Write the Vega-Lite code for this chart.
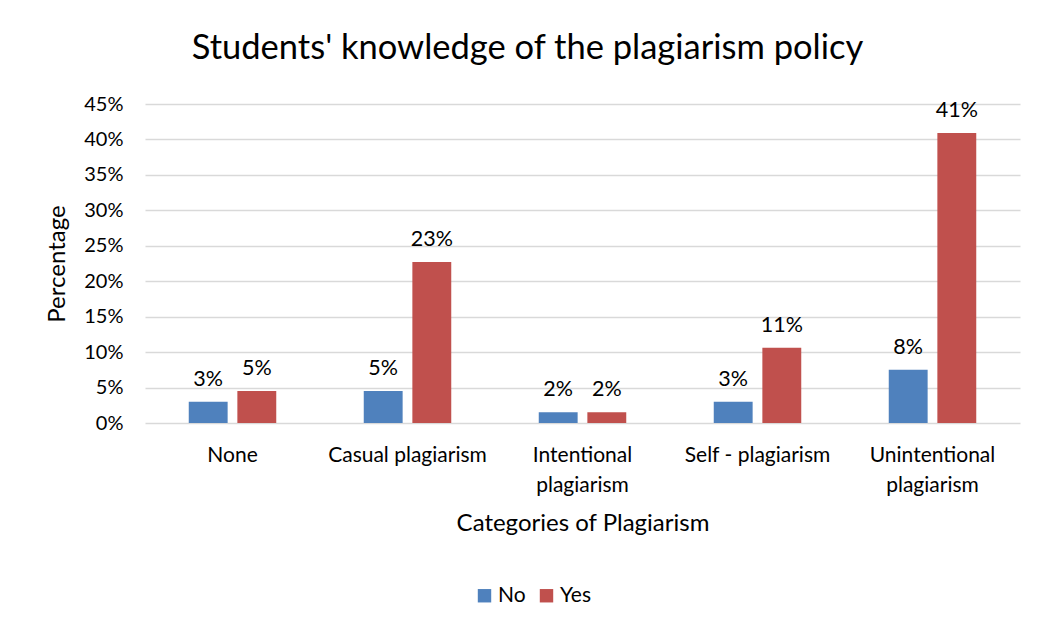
{
  "$schema": "https://vega.github.io/schema/vega-lite/v6.json",
  "width": 875,
  "height": 319,
  "autosize": {"type": "none"},
  "padding": {"left": 145, "top": 104, "right": 20, "bottom": 207},
  "background": "white",
  "title": {
    "text": "Students' knowledge of the plagiarism policy",
    "fontSize": 34.5,
    "font": "Lato",
    "fontWeight": "normal",
    "color": "#000000",
    "anchor": "middle",
    "frame": "group",
    "dx": -55,
    "offset": 28
  },
  "data": {
    "values": [
      {"category": "None", "answer": "No", "value": 0.030},
      {"category": "None", "answer": "Yes", "value": 0.045},
      {"category": "Casual plagiarism", "answer": "No", "value": 0.045},
      {"category": "Casual plagiarism", "answer": "Yes", "value": 0.227},
      {"category": "Intentional plagiarism", "answer": "No", "value": 0.015},
      {"category": "Intentional plagiarism", "answer": "Yes", "value": 0.015},
      {"category": "Self - plagiarism", "answer": "No", "value": 0.030},
      {"category": "Self - plagiarism", "answer": "Yes", "value": 0.106},
      {"category": "Unintentional plagiarism", "answer": "No", "value": 0.075},
      {"category": "Unintentional plagiarism", "answer": "Yes", "value": 0.409}
    ]
  },
  "encoding": {
    "x": {
      "field": "category",
      "type": "nominal",
      "sort": null,
      "scale": {"paddingInner": 0.5, "paddingOuter": 0.25},
      "axis": {
        "title": "Categories of Plagiarism",
        "labelAngle": 0,
        "labelFontSize": 21,
        "labelExpr": "datum.label == 'Intentional plagiarism' ? ['Intentional', 'plagiarism'] : datum.label == 'Unintentional plagiarism' ? ['Unintentional', 'plagiarism'] : datum.label",
        "labelLineHeight": 30,
        "labelPadding": 21,
        "ticks": false,
        "domain": false,
        "titlePadding": 16
      }
    },
    "xOffset": {"field": "answer", "type": "nominal", "scale": {"paddingInner": 0.2, "paddingOuter": 0}},
    "y": {
      "field": "value",
      "type": "quantitative",
      "scale": {"domain": [0, 0.45]},
      "axis": {
        "title": "Percentage",
        "format": ".0%",
        "values": [0, 0.05, 0.1, 0.15, 0.2, 0.25, 0.3, 0.35, 0.4, 0.45],
        "domain": false,
        "ticks": false,
        "labelFontSize": 20,
        "labelPadding": 22,
        "titlePadding": 14
      }
    }
  },
  "layer": [
    {
      "mark": {"type": "bar"},
      "encoding": {
        "color": {
          "field": "answer",
          "type": "nominal",
          "scale": {"domain": ["No", "Yes"], "range": ["#4F81BD", "#C0504D"]},
          "legend": {
            "title": null,
            "orient": "none",
            "direction": "horizontal",
            "legendX": 329,
            "legendY": 481,
            "symbolType": "square",
            "symbolSize": 180,
            "symbolStrokeWidth": 0,
            "labelFontSize": 21,
            "labelFont": "Lato",
            "labelColor": "#000000",
            "columnPadding": 10,
            "labelOffset": 3
          }
        }
      }
    },
    {
      "mark": {"type": "text", "baseline": "bottom", "dy": -11, "fontSize": 21.5, "font": "Lato", "color": "#000000"},
      "encoding": {
        "text": {"field": "value", "type": "quantitative", "format": ".0%"}
      }
    }
  ],
  "config": {
    "view": {"stroke": null},
    "font": "Lato",
    "axis": {
      "labelFont": "Lato",
      "labelFontSize": 19,
      "labelColor": "#000000",
      "titleFont": "Lato",
      "titleFontSize": 24,
      "titleFontWeight": "normal",
      "titleColor": "#000000",
      "gridColor": "#d9d9d9",
      "gridWidth": 1.5
    },
    "axisX": {"grid": false},
    "axisY": {"grid": true}
  }
}
